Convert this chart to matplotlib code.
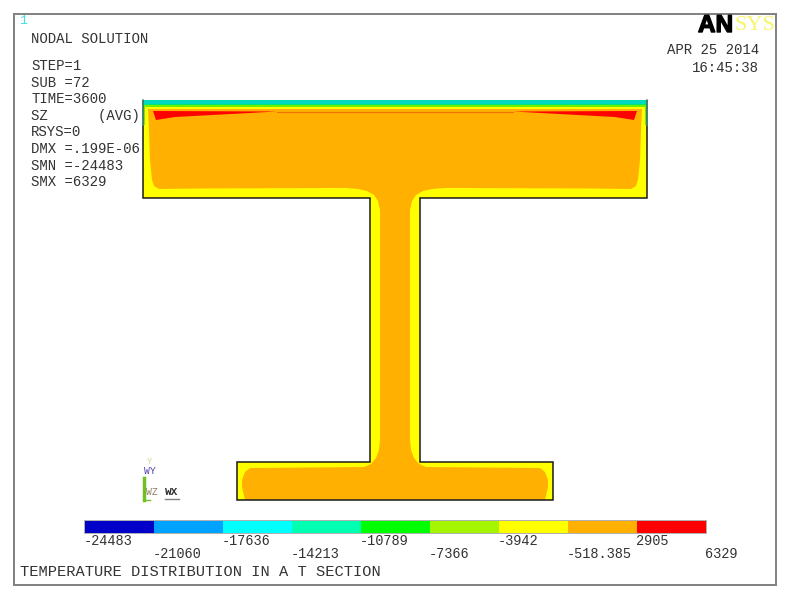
import matplotlib
matplotlib.use("Agg")
import matplotlib.pyplot as plt
import matplotlib.patheffects as pe
from matplotlib.patches import Polygon, Rectangle

MONO = "Liberation Mono"
INK = "#333333"
band_colors = ["#0000c8", "#00a2ff", "#00ffff", "#00ffb0", "#00ff00",
               "#a6f500", "#ffff00", "#ffb000", "#ff0000"]
level_labels = ["-24483", "-21060", "-17636", "-14213", "-10789",
                "-7366", "-3942", "-518.385", "2905", "6329"]
info_lines = ["STEP=1", "SUB =72", "TIME=3600", "SZ      (AVG)", "RSYS=0",
              "DMX =.199E-06", "SMN =-24483", "SMX =6329"]

# Half outlines (left side, in picture pixels); mirrored about the web centre
centre = 395
section_sides = [(143, 100), (143, 198), (370, 198), (370, 462), (237, 462), (237, 500)]
orange_half = [(148, 109), (149, 130), (150, 160), (152, 180), (154, 186), (159, 189),
               (200, 188.5), (345, 188), (358, 189), (367, 191), (374, 195), (378, 201),
               (380, 210), (380, 440), (379, 450), (376, 458), (371, 464), (364, 467),
               (250, 468), (245, 472), (242, 480), (242, 487), (245, 500)]
top_bands = [("#00d8c0", 100, 103.5), ("#00e870", 103.5, 105), ("#70f000", 105, 106.5),
             ("#ffff00", 106.5, 109)]
red_left = [(153, 111), (277, 111.5), (240, 113.5), (175, 117), (156, 120)]


def mirror(half):
    return half + [(2 * centre - x, y) for x, y in reversed(half)]


fig = plt.figure(figsize=(8, 6.15), dpi=100)
ax = fig.add_axes([0, 0, 1, 1])
ax.set_xlim(0, 800)
ax.set_ylim(615, 0)
ax.axis("off")

ax.add_patch(Rectangle((14, 13.5), 762, 571.5, fc="white", ec="#808080", lw=1.4))

# Section and contour bands
ax.add_patch(Polygon(mirror(section_sides), fc="#ffff00", ec="none", zorder=1))
ax.add_patch(Polygon(mirror(orange_half), fc="#ffb000", ec="none", zorder=2))
for color, y0, y1 in top_bands:
    ax.add_patch(Rectangle((143, y0), 504, y1 - y0, fc=color, ec="none", zorder=3))
ax.add_patch(Polygon(red_left, fc="#ff0000", ec="none", zorder=4))
ax.add_patch(Polygon([(2 * centre - x, y) for x, y in red_left], fc="#ff0000", ec="none", zorder=4))
ax.plot([277, 513], [111.6, 111.6], color="#f07000", lw=0.8, zorder=4)
ax.add_patch(Rectangle((143, 107), 2, 18, fc="#80e020", ec="none", zorder=4))
ax.add_patch(Rectangle((645, 107), 2, 18, fc="#80e020", ec="none", zorder=4))
ax.add_patch(Polygon(mirror(section_sides), fill=False, closed=False, ec="#1a1a1a", lw=1.1, zorder=5))
ax.plot([143, 143], [100, 125], color="#409a70", lw=1.1, zorder=6)
ax.plot([647, 647], [100, 125], color="#409a70", lw=1.1, zorder=6)

# Text block
ax.text(19, 20.5, "1", color="#40e0e0", family=MONO, fontsize=9.5, va="center")
ax.text(31, 39, "NODAL SOLUTION", family=MONO, fontsize=10.1, color=INK, va="center")
for i, line in enumerate(info_lines):
    ax.text(31, 66 + i * 16.6, line, family=MONO, fontsize=10.1, color=INK, va="center")
ax.text(759, 50.5, "APR 25 2014", family=MONO, fontsize=10.1, color=INK, va="center", ha="right")
ax.text(759, 67.5, "16:45:38", family=MONO, fontsize=10.1, color=INK, va="center", ha="right")
ax.text(20, 572, "TEMPERATURE DISTRIBUTION IN A T SECTION", family=MONO, fontsize=11.1,
        color=INK, va="center")

# Logo
ax.text(733, 25.5, "AN", family="Liberation Sans", weight="bold", fontsize=17.5, color="black",
        va="center", ha="right",
        path_effects=[pe.withStroke(linewidth=1.0, foreground="black")])
ax.text(734, 25.5, "SYS", family="Liberation Serif", fontsize=16, color="#f6f66a", va="center", ha="left")

# Legend bar
bar_left, seg = 85, 69
ax.add_patch(Rectangle((bar_left - 1, 520), seg * len(band_colors) + 2, 14, fc="#b0b0b0", ec="none", zorder=1))
for i, color in enumerate(band_colors):
    ax.add_patch(Rectangle((bar_left + i * seg, 521), seg, 12, fc=color, ec="none", zorder=2))
for i, label in enumerate(level_labels):
    y = 541 if i % 2 == 0 else 553.5
    ax.text(bar_left - 1 + i * seg, y, label, family=MONO, fontsize=9.8, color=INK, va="center", ha="left")

# Triad
ax.plot([144, 144], [478, 500], color="#70c020", lw=2.5, zorder=3)
ax.plot([144, 150], [499.5, 499.5], color="#70c020", lw=1)
ax.plot([165, 179], [498.5, 498.5], color="#808080", lw=1)
ax.text(150, 461, "Y", family=MONO, fontsize=6.5, color="#c8d8a0", ha="center", va="center")
ax.text(150, 471, "WY", family=MONO, fontsize=7, color="#5040b0", ha="center", va="center")
ax.text(152, 492, "WZ", family=MONO, fontsize=7, color="#908060", ha="center", va="center")
ax.text(172, 492, "WX", family=MONO, fontsize=8, weight="bold", color="#303030", ha="center", va="center")

fig.savefig("out.png", dpi=100)
